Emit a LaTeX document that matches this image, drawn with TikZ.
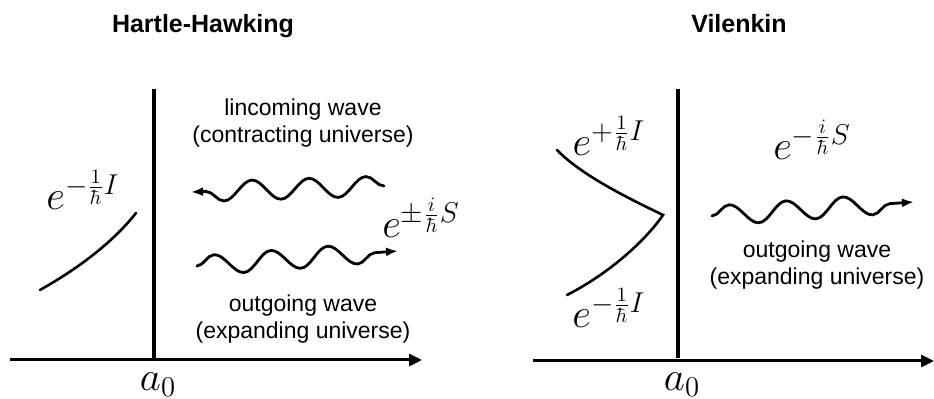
\RequirePackage{fix-cm}
\documentclass[tikz,border=0pt]{standalone}
\usepackage{amsmath}
\usepackage{fontspec}
\setsansfont{Liberation Sans}
\usepackage{tikz}
\usetikzlibrary{arrows.meta,decorations.pathmorphing}

\begin{document}
\begin{tikzpicture}[x=0.5pt,y=-0.5pt,
        axis/.style ={draw, line width=1.5pt, -{Triangle[length=6.5pt,width=6pt]}},
        wall/.style ={draw, line width=1.6pt},
        branch/.style ={draw, line width=1.3pt, line cap=round},
        wave/.style ={draw, line width=1.4pt, line cap=round, -{Latex[length=6pt,width=4.5pt]},
                      decorate, decoration={snake, amplitude=#1, segment length=28.5pt, post length=6pt}},
        wave/.default=5pt,
        caption/.style ={font=\sffamily\fontsize{11.5}{13.5}\selectfont, align=center},
        heading/.style ={font=\sffamily\bfseries\fontsize{12.5}{15}\selectfont, anchor=base},
        formula/.style ={font=\fontsize{20.5}{24}\selectfont, inner sep=0pt},
    ]
\useasboundingbox (0,0) rectangle (934,399);

% Hartle-Hawking

\node (hhtitle) [heading] at (203,33) {Hartle-Hawking};

\coordinate (hhstart) at (10,360);
\coordinate (hhend) at (422,360);
\coordinate (hhtop) at (154,89);
\coordinate (hhfoot) at (154,358);
\draw[axis] (hhstart) -- (hhend);
\draw[wall] (hhtop) -- (hhfoot);
\node (hha) [formula] at (158,385) {$a_0$};

\coordinate (hhlow) at (40,290);
\coordinate (hhhigh) at (136,213);
\draw[branch] (hhlow) .. controls (72,272) and (110,246) .. (hhhigh);
\node (hhdecay) [formula] at (83,190) {$e^{-\frac{1}{\hbar}I}$};

\node (hhin) [caption] at (303,123) {lincoming wave\\(contracting universe)};
\coordinate (inright) at (384,186);
\coordinate (inleft) at (191,192);
\draw[wave=-5pt] (inright) -- (inleft);

\node (hhosc) [formula] at (421,218) {$e^{\pm\frac{i}{\hbar}S}$};

\coordinate (outleft) at (197,266);
\coordinate (outright) at (398,251);
\draw[wave] (outleft) -- (outright);
\node (hhout) [caption] at (303,319) {outgoing wave\\(expanding universe)};

% Vilenkin

\node (vtitle) [heading] at (739,33) {Vilenkin};

\coordinate (vstart) at (533,361);
\coordinate (vend) at (934,361);
\coordinate (vtop) at (678,89);
\coordinate (vfoot) at (678,358);
\draw[axis] (vstart) -- (vend);
\draw[wall] (vtop) -- (vfoot);
\node (va) [formula] at (682,385) {$a_0$};

\coordinate (vupper) at (557,150);
\coordinate (vtip) at (663,215);
\coordinate (vlower) at (567,295);
\draw[branch] (vupper) .. controls (582,176) and (632,200) .. (vtip)
              .. controls (646,240) and (610,273) .. (vlower);
\node (vgrow) [formula] at (609,136) {$e^{+\frac{1}{\hbar}I}$};
\node (vdecay) [formula] at (609,308) {$e^{-\frac{1}{\hbar}I}$};

\node (vosc) [formula] at (812,140) {$e^{-\frac{i}{\hbar}S}$};
\coordinate (vwleft) at (712,216);
\coordinate (vwright) at (914,202);
\draw[wave] (vwleft) -- (vwright);
\node (vout) [caption] at (817,265) {outgoing wave\\(expanding universe)};

\end{tikzpicture}
\end{document}
